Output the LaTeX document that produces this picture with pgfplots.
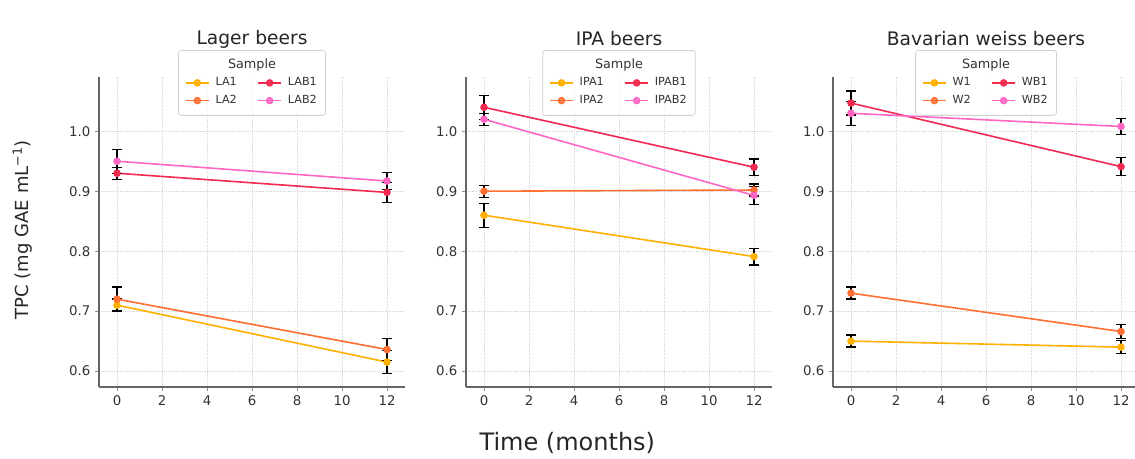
\documentclass[border=0pt]{standalone}
\usepackage{pgfplots}
\usepackage{pgfplotstable}
\pgfplotsset{compat=1.18}
\usepackage{fontspec}
\setmainfont{DejaVu Sans}

\definecolor{cA}{HTML}{FFB000}
\definecolor{cB}{HTML}{FF6E33}
\definecolor{cC}{HTML}{F2294E}
\definecolor{cD}{HTML}{FF66C4}

% TPC means and standard deviations at 0 and 12 months
\pgfplotstableread{
t  s1    e1    s2    e2    s3    e3    s4    e4
0  0.710 0.010 0.720 0.020 0.930 0.010 0.950 0.020
12 0.615 0.019 0.636 0.018 0.898 0.017 0.917 0.014
}\lager
\pgfplotstableread{
t  s1    e1    s2    e2    s3    e3    s4    e4
0  0.860 0.020 0.900 0.010 1.040 0.020 1.020 0.010
12 0.791 0.014 0.902 0.010 0.940 0.014 0.893 0.015
}\ipa
\pgfplotstableread{
t  s1    e1    s2    e2    s3    e3    s4    e4
0  0.650 0.010 0.730 0.010 1.047 0.020 1.030 0.020
12 0.640 0.011 0.666 0.012 0.941 0.015 1.008 0.013
}\weiss

\pgfplotsset{
  tpc/.style={
    scale only axis, width=229.5pt, height=232.5pt,
    anchor=south west,
    xmin=-0.8, xmax=12.8, ymin=0.5735, ymax=1.0905,
    axis lines*=left,
    axis line style={black!60, line width=1pt},
    tick style={black!45, line width=0.7pt},
    tick align=outside, major tick length=3pt,
    xtick={0,2,4,6,8,10,12}, xticklabels={0,2,4,6,8,10,12},
    ytick={0.6,0.7,0.8,0.9,1.0}, yticklabels={0.6,0.7,0.8,0.9,1.0},
    ticklabel style={font=\fontsize{10}{12}\selectfont, text=black!80},
    grid=major,
    major grid style={densely dotted, black!16, line width=0.6pt},
    title style={at={(0.5,1.097)}, anchor=center, font=\fontsize{14}{16}\selectfont, text=black!85},
    legend columns=2,
    legend cell align=left,
    legend style={
      at={(0.5,1.087)}, anchor=north,
      draw=black!18, fill=white, fill opacity=0.8, text opacity=1,
      rounded corners=2pt, line width=0.6pt,
      inner xsep=5pt, inner ysep=5.5pt,
      font=\fontsize{8.4}{10}\selectfont, text=black!80,
      row sep=2.2pt,
      nodes={inner sep=1.5pt, text height=6.3pt, text depth=1.8pt},
      /tikz/every odd column/.append style={column sep=3pt},
      /tikz/every even column/.append style={column sep=14pt},
    },
  },
  ser/.style={
    color=#1, line width=1.2pt,
    mark=*, mark size=2.2pt, mark options={solid, fill=#1, draw=#1},
    error bars/.cd, y dir=both, y explicit,
    error bar style={black, line width=1pt},
    error mark options={black, rotate=90, mark size=3.75pt, line width=1pt},
  },
}

% one panel: an empty first legend row holds the legend title,
% then the four samples fill two columns row by row
\newcommand{\panel}[5]{%
  \addlegendimage{empty legend}\addlegendentry{}
  \addlegendimage{empty legend}\addlegendentry{}
  \addplot[ser=cA] table[x=t, y=s1, y error=e1] {#1};
  \addlegendentry{#2}
  \addplot[ser=cC] table[x=t, y=s3, y error=e3] {#1};
  \addlegendentry{#4}
  \addplot[ser=cB] table[x=t, y=s2, y error=e2] {#1};
  \addlegendentry{#3}
  \addplot[ser=cD] table[x=t, y=s4, y error=e4] {#1};
  \addlegendentry{#5}
}

\begin{document}
\begin{tikzpicture}
\path[use as bounding box] (0pt,0pt) rectangle (851.25pt,344.25pt);

\begin{axis}[tpc, name=ax1, at={(74.25pt,54pt)}, title={Lager beers}]
  \panel{\lager}{LA1}{LA2}{LAB1}{LAB2}
\end{axis}

\begin{axis}[tpc, name=ax2, at={(349.5pt,54pt)}, title={IPA beers}]
  \panel{\ipa}{IPA1}{IPA2}{IPAB1}{IPAB2}
\end{axis}

\begin{axis}[tpc, name=ax3, at={(624.75pt,54pt)}, title={Bavarian weiss beers}]
  \panel{\weiss}{W1}{W2}{WB1}{WB2}
\end{axis}

% legend titles
\foreach \a in {ax1,ax2,ax3}
  \node[font=\fontsize{9.6}{11}\selectfont, text=black!80] at ([yshift=8.8pt]\a.north) {Sample};

% shared axis labels
\node[rotate=90, font=\fontsize{13.5}{16}\selectfont, text=black!85] at (17pt,172pt)
  {TPC (mg GAE mL\textsuperscript{−1})};
\node[font=\fontsize{18}{21}\selectfont, text=black!85] at (425.5pt,12pt) {Time (months)};
\end{tikzpicture}
\end{document}
